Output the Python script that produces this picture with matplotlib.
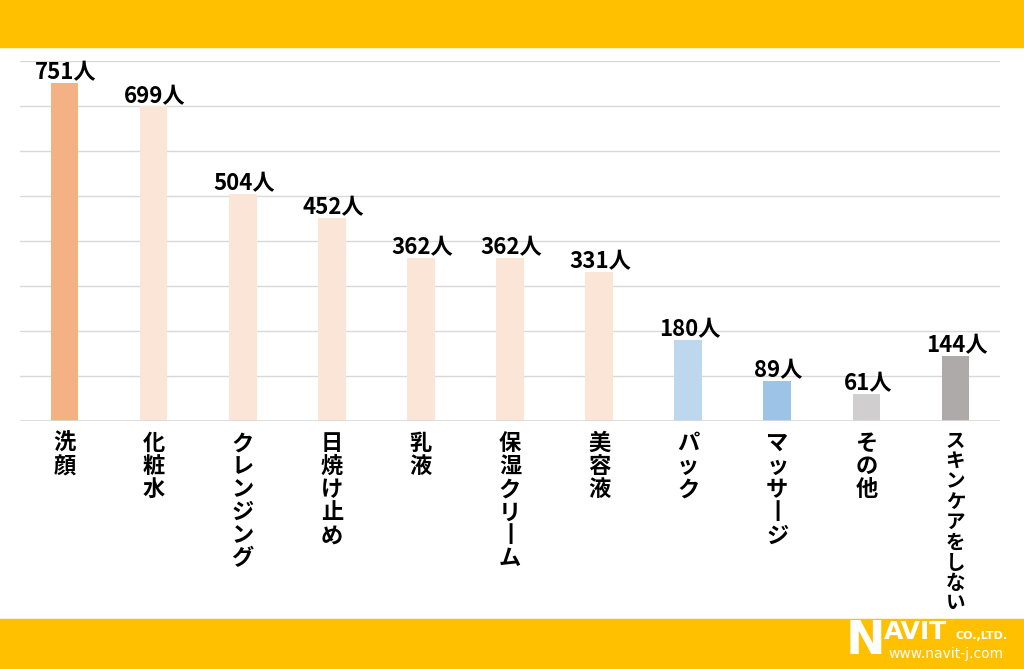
import matplotlib
matplotlib.use("Agg")
import matplotlib.pyplot as plt
from matplotlib.patches import Rectangle

plt.rcParams['font.family'] = ['Noto Sans CJK JP', 'DejaVu Sans']

# Données
categories = ["洗顔", "化粧水", "クレンジング", "日焼け止め", "乳液", "保湿クリーム",
              "美容液", "パック", "マッサージ", "その他", "スキンケアをしない"]
values = [751, 699, 504, 452, 362, 362, 331, 180, 89, 61, 144]
colors = ["#F4B183", "#FBE5D6", "#FBE5D6", "#FBE5D6", "#FBE5D6", "#FBE5D6",
          "#FBE5D6", "#BDD7EE", "#9DC3E6", "#D0CECE", "#AEAAAA"]
yticks = [0, 100, 200, 300, 400, 500, 600, 700, 800]

YELLOW = "#FFC000"

fig = plt.figure(figsize=(10.24, 6.69), dpi=100)

# Bandes jaunes haut / bas
fig.patches.append(Rectangle((0, 1 - 47 / 669), 1, 47 / 669, transform=fig.transFigure,
                             color=YELLOW, zorder=0))
fig.patches.append(Rectangle((0, 0), 1, 50 / 669, transform=fig.transFigure,
                             color=YELLOW, zorder=0))

ax = fig.add_axes([20 / 1024, 1 - 421 / 669, 980 / 1024, 360 / 669])
x = list(range(len(categories)))
bars = ax.bar(x, values, width=0.31, color=colors, zorder=3)

ax.set_xlim(-0.5, len(categories) - 0.5)
ax.set_ylim(0, 800)
ax.set_yticks(yticks)
ax.yaxis.grid(True, color="#D9D9D9", linewidth=1.0, zorder=0)
ax.tick_params(left=False, bottom=False, labelleft=False, labelbottom=False)
for s in ax.spines.values():
    s.set_visible(False)
ax.axhline(0, color="#D9D9D9", linewidth=1.2, zorder=4)

# Valeurs au-dessus des barres
for bar, v in zip(bars, values):
    ax.annotate(f"{v}人", (bar.get_x() + bar.get_width() / 2, v),
                xytext=(1, -1), textcoords="offset points",
                ha="center", va="bottom", fontsize=16, fontweight="bold", color="black")

# Étiquettes verticales (un caractère par ligne, ー en trait vertical)
for i, label in enumerate(categories):
    long_label = len(label) > 7
    step = 14.6 if long_label else 16.6
    size = 14 if long_label else 16
    for k, ch in enumerate(label):
        if ch == "ー":
            ch = "丨"
        ax.annotate(ch, (i, 0), xytext=(0, -8 - k * step), textcoords="offset points",
                    ha="center", va="top", fontsize=size, fontweight="bold",
                    annotation_clip=False)

# Logo
fig.text(846 / 1024, 1 - 641 / 669, "N", color="white", fontsize=34, fontweight="black",
         family="DejaVu Sans", ha="left", va="center")
fig.text(884 / 1024, 1 - 632 / 669, "AVIT", color="white", fontsize=18, fontweight="bold",
         family="DejaVu Sans", ha="left", va="center")
fig.text(955 / 1024, 1 - 636 / 669, "CO.,LTD.", color="white", fontsize=8, fontweight="bold",
         family="DejaVu Sans", ha="left", va="center")
fig.text(888 / 1024, 1 - 654 / 669, "www.navit-j.com", color="white", fontsize=10,
         family="DejaVu Sans", ha="left", va="center")

plt.savefig("out.png", dpi=100)
